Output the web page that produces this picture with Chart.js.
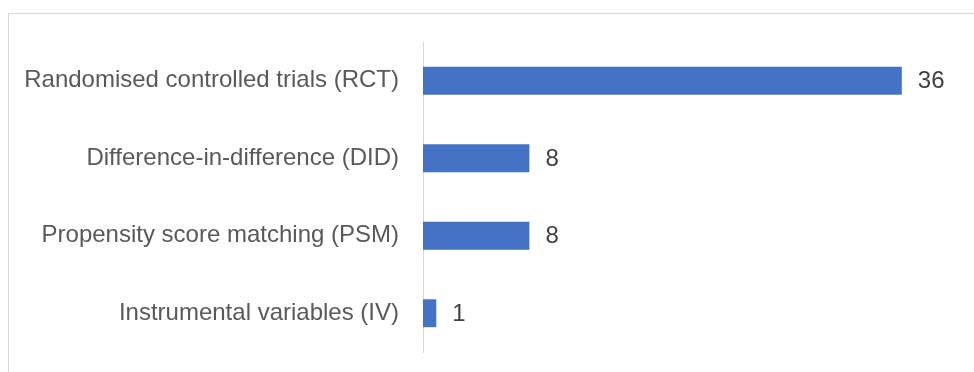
<!DOCTYPE html>
<html>
<head>
<meta charset="utf-8">
<script src="https://cdn.jsdelivr.net/npm/chart.js@4/dist/chart.umd.min.js"></script>
<style>
  html, body { margin: 0; padding: 0; background: #fff; overflow: hidden; }
  #wrap { position: relative; width: 974px; height: 372px; }
  #frame { position: absolute; left: 8px; top: 13px; width: 1000px; height: 400px; border: 1px solid #d9d9d9; box-sizing: border-box; }
  canvas { position: absolute; left: 0; top: 0; }
</style>
</head>
<body>
<div id="wrap">
  <div id="frame"></div>
  <canvas id="methods" width="974" height="372"></canvas>
</div>
<script>
const methods = [
  'Randomised controlled trials (RCT)',
  'Difference-in-difference (DID)',
  'Propensity score matching (PSM)',
  'Instrumental variables (IV)'
];
const studyCounts = [36, 8, 8, 1];

const fontFamily = "'Liberation Sans', Arial, sans-serif";

// writes the count just past the end of each bar
const valueLabels = {
  id: 'valueLabels',
  afterDatasetsDraw(chart) {
    const ctx = chart.ctx;
    const meta = chart.getDatasetMeta(0);
    ctx.save();
    ctx.font = '24px ' + fontFamily;
    ctx.fillStyle = '#404040';
    ctx.textAlign = 'left';
    ctx.textBaseline = 'middle';
    meta.data.forEach((bar, i) => {
      ctx.fillText(String(studyCounts[i]), bar.x + 16, bar.y + 1);
    });
    ctx.restore();
  }
};

new Chart(document.getElementById('methods'), {
  type: 'bar',
  data: {
    labels: methods,
    datasets: [{
      data: studyCounts,
      backgroundColor: '#4472C4',
      borderWidth: 0,
      categoryPercentage: 1,
      barPercentage: 0.36
    }]
  },
  options: {
    indexAxis: 'y',
    responsive: false,
    animation: false,
    layout: { padding: { top: 42, bottom: 20, right: 19, left: 0 } },
    plugins: {
      legend: { display: false },
      tooltip: { enabled: false }
    },
    scales: {
      x: {
        display: false,
        min: 0,
        max: 40
      },
      y: {
        afterFit(scale) {
          scale.width = 423;
          // keep the tick padding from eating into the plot height
          scale.paddingTop = 0;
          scale.paddingBottom = 0;
        },
        grid: { display: false, drawTicks: false },
        border: { display: true, color: '#d9d9d9', width: 1 },
        ticks: {
          padding: 24,
          color: '#595959',
          font: { family: fontFamily, size: 24 }
        }
      }
    }
  },
  plugins: [valueLabels]
});
</script>
</body>
</html>
